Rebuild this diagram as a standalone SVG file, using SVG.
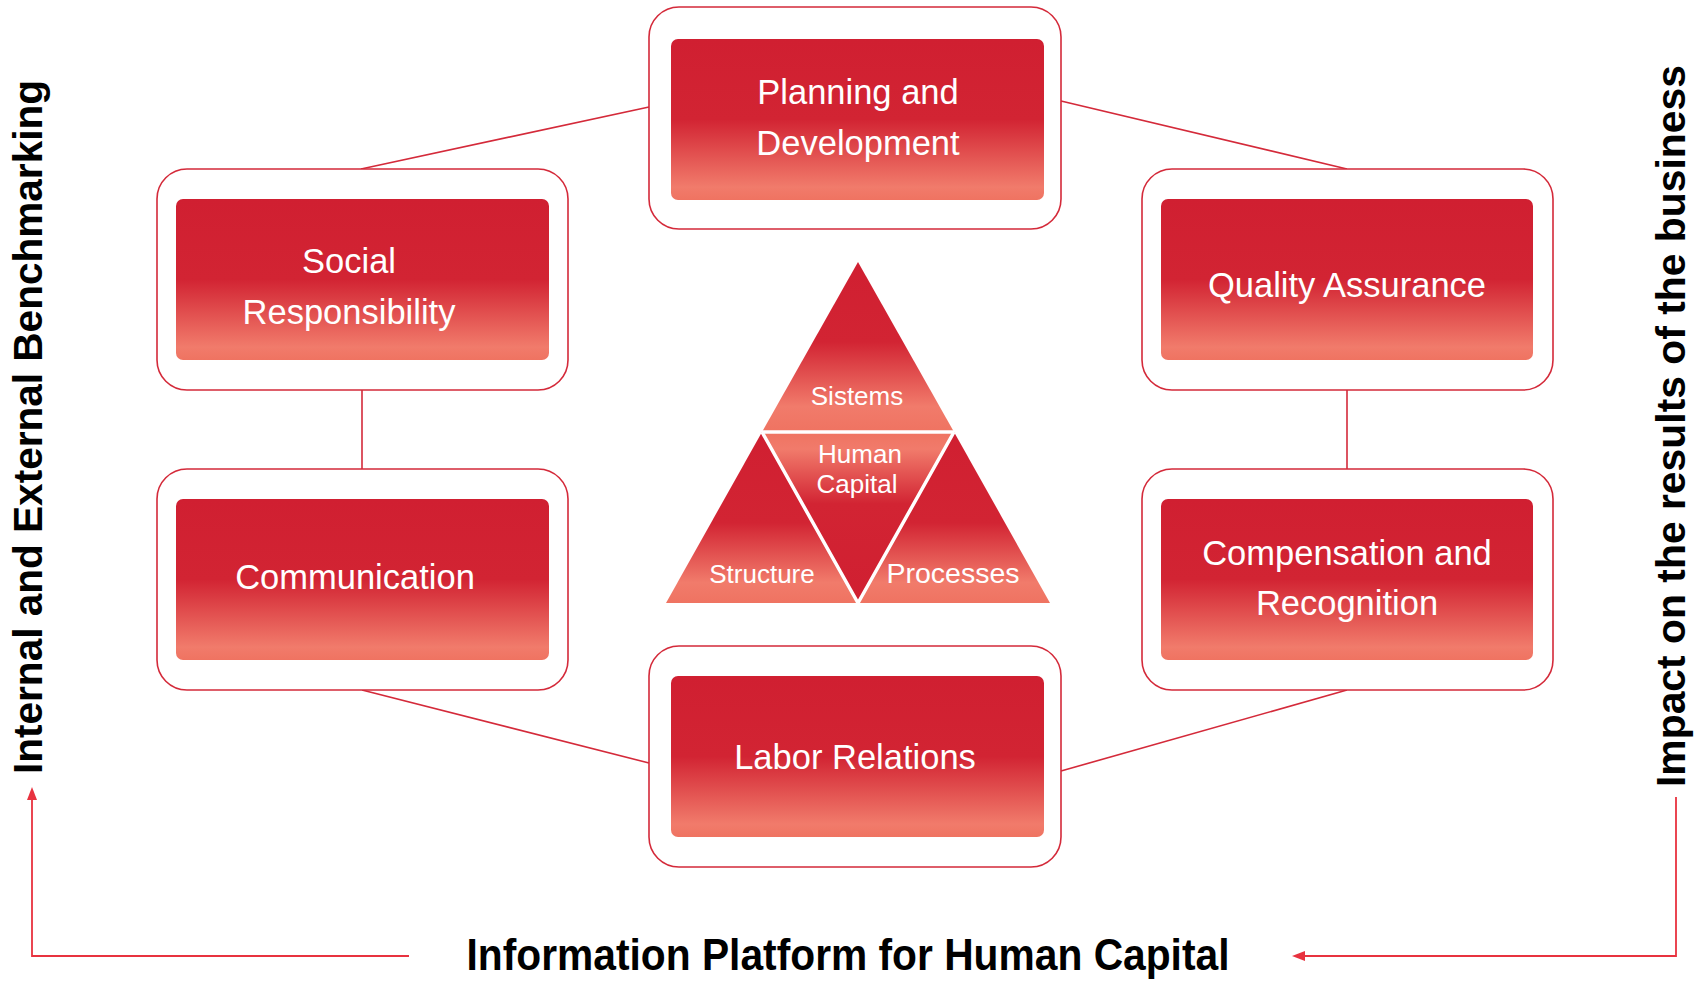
<svg xmlns="http://www.w3.org/2000/svg" width="1702" height="981" viewBox="0 0 1702 981">
<defs>
<linearGradient id="boxGrad" x1="0" y1="0" x2="0" y2="1">
<stop offset="0" stop-color="#D01F31"/>
<stop offset="0.5" stop-color="#D22433"/>
<stop offset="0.92" stop-color="#F17B6B"/>
<stop offset="1" stop-color="#EF7361"/>
</linearGradient>
<linearGradient id="topTri" gradientUnits="userSpaceOnUse" x1="0" y1="262" x2="0" y2="432">
<stop offset="0" stop-color="#D01F31"/>
<stop offset="0.47" stop-color="#D22433"/>
<stop offset="0.85" stop-color="#F17B6B"/>
<stop offset="1" stop-color="#EF7361"/>
</linearGradient>
<linearGradient id="midTri" gradientUnits="userSpaceOnUse" x1="0" y1="432" x2="0" y2="603">
<stop offset="0" stop-color="#EF7361"/>
<stop offset="0.1" stop-color="#F17B6B"/>
<stop offset="0.42" stop-color="#D22433"/>
<stop offset="1" stop-color="#D01F31"/>
</linearGradient>
<linearGradient id="lowTri" gradientUnits="userSpaceOnUse" x1="0" y1="432" x2="0" y2="603">
<stop offset="0" stop-color="#D01F31"/>
<stop offset="0.53" stop-color="#D22433"/>
<stop offset="0.88" stop-color="#F17B6B"/>
<stop offset="1" stop-color="#EF7361"/>
</linearGradient>
<marker id="arrow" markerUnits="userSpaceOnUse" markerWidth="14" markerHeight="12" refX="0" refY="5" orient="auto">
<path d="M0,0 L13,5 L0,10 z" fill="#E8323F"/>
</marker>
</defs>
<style>
.outer{fill:#fff;stroke:#D42A3A;stroke-width:1.6}
.inner{fill:url(#boxGrad)}
.lbl{font-family:"Liberation Sans",Arial,sans-serif;font-size:34.5px;fill:#fff;text-anchor:middle}
.tri{font-family:"Liberation Sans",Arial,sans-serif;font-size:26px;fill:#fff;text-anchor:middle}
.side{font-family:"Liberation Sans",Arial,sans-serif;font-weight:bold;font-size:40px;fill:#000}
.conn{stroke:#D42A3A;stroke-width:1.6;fill:none}
.arr{stroke:#E8323F;stroke-width:1.8;fill:none}
</style>
<rect width="1702" height="981" fill="#fff"/>
<g id="connectors">
<line class="conn" x1="649" y1="107" x2="361" y2="169"/>
<line class="conn" x1="1061" y1="101" x2="1347" y2="169"/>
<line class="conn" x1="362" y1="390" x2="362" y2="469"/>
<line class="conn" x1="1347" y1="390" x2="1347" y2="469"/>
<line class="conn" x1="362" y1="690" x2="649" y2="763"/>
<line class="conn" x1="1347" y1="690" x2="1061" y2="771"/>
<polyline class="arr" points="409,956 32,956 32,800" marker-end="url(#arrow)"/>
<polyline class="arr" points="1676,797 1676,956 1305,956" marker-end="url(#arrow)"/>
</g>
<g id="planning">
<rect class="outer" x="649" y="7" width="412" height="222" rx="30"/>
<rect class="inner" x="671" y="39" width="373" height="161" rx="7"/>
<text class="lbl" x="858" y="104">Planning and</text>
<text class="lbl" x="858" y="155">Development</text>
</g>
<g id="social">
<rect class="outer" x="157" y="169" width="411" height="221" rx="30"/>
<rect class="inner" x="176" y="199" width="373" height="161" rx="7"/>
<text class="lbl" x="349" y="273">Social</text>
<text class="lbl" x="349" y="324">Responsibility</text>
</g>
<g id="quality">
<rect class="outer" x="1142" y="169" width="411" height="221" rx="30"/>
<rect class="inner" x="1161" y="199" width="372" height="161" rx="7"/>
<text class="lbl" x="1347" y="297">Quality Assurance</text>
</g>
<g id="communication">
<rect class="outer" x="157" y="469" width="411" height="221" rx="30"/>
<rect class="inner" x="176" y="499" width="373" height="161" rx="7"/>
<text class="lbl" x="355" y="589">Communication</text>
</g>
<g id="compensation">
<rect class="outer" x="1142" y="469" width="411" height="221" rx="30"/>
<rect class="inner" x="1161" y="499" width="372" height="161" rx="7"/>
<text class="lbl" x="1347" y="565">Compensation and</text>
<text class="lbl" x="1347" y="615">Recognition</text>
</g>
<g id="labor">
<rect class="outer" x="649" y="646" width="412" height="221" rx="30"/>
<rect class="inner" x="671" y="676" width="373" height="161" rx="7"/>
<text class="lbl" x="855" y="769">Labor Relations</text>
</g>
<g id="triangle">
<polygon points="858,262 954,432 762,432" fill="url(#topTri)"/>
<polygon points="762,432 858,603 666,603" fill="url(#lowTri)"/>
<polygon points="954,432 1050,603 858,603" fill="url(#lowTri)"/>
<polygon points="762,432 954,432 858,603" fill="url(#midTri)"/>
<polyline points="762,432 954,432" stroke="#fff" stroke-width="3.5" fill="none"/>
<polyline points="762,432 858,603 954,432" stroke="#fff" stroke-width="3.5" fill="none" stroke-linejoin="miter"/>
<text class="tri" x="857" y="405">Sistems</text>
<text class="tri" x="860" y="463">Human</text>
<text class="tri" x="857" y="493">Capital</text>
<text class="tri" x="762" y="583">Structure</text>
<text class="tri" x="953" y="583" style="font-size:28.5px">Processes</text>
</g>
<g id="labels">
<text class="side" transform="translate(42,774) rotate(-90)" textLength="694" lengthAdjust="spacingAndGlyphs">Internal and External Benchmarking</text>
<text class="side" transform="translate(1685,787) rotate(-90)" textLength="722" lengthAdjust="spacingAndGlyphs">Impact on the results of the business</text>
<text class="side" x="848" y="970" text-anchor="middle" style="font-size:44px" textLength="763" lengthAdjust="spacingAndGlyphs">Information Platform for Human Capital</text>
</g>
</svg>
